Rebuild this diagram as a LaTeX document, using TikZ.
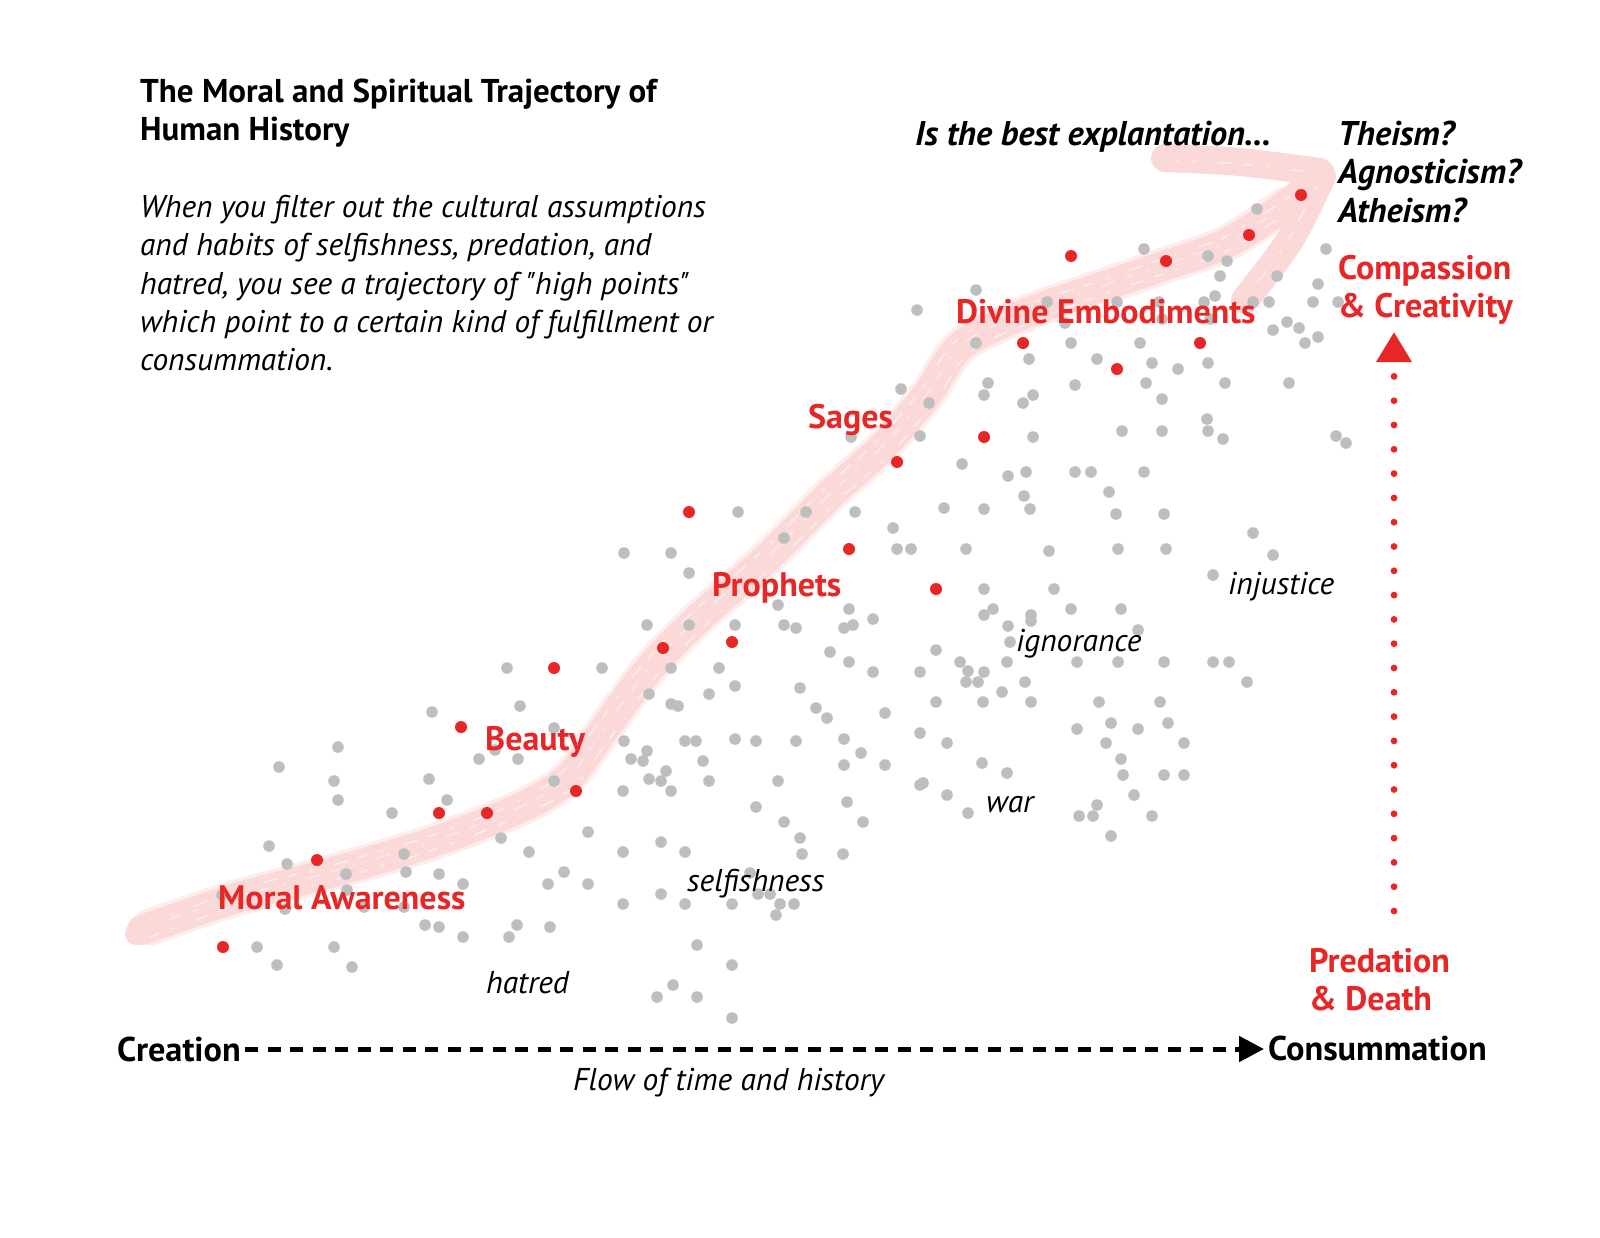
\documentclass[tikz,border=0pt]{standalone}
\usepackage{fontspec}
\setmainfont{PT Sans}
\newfontfamily\plainqfont{PT Sans}
\usetikzlibrary{arrows.meta}
\definecolor{hired}{RGB}{232,38,38}
\definecolor{dotgrey}{RGB}{190,190,190}
\definecolor{bandpink}{RGB}{252,217,217}
\begin{document}
\begin{tikzpicture}[x=1pt,y=-1pt,
  txt/.style={anchor=base west,inner sep=0pt},
  titlefont/.style={txt,font=\fontsize{33}{38}\selectfont\bfseries},
  parafont/.style={txt,font=\fontsize{31.4}{38}\selectfont\itshape},
  redlabel/.style={txt,text=hired,font=\fontsize{34}{38}\selectfont\bfseries},
  qlabel/.style={txt,font=\fontsize{34.3}{38}\selectfont\bfseries\itshape},
  evil/.style={txt,font=\fontsize{31.5}{38}\selectfont\itshape},
  axislabel/.style={txt,font=\fontsize{34.3}{38}\selectfont\bfseries},
  band/.style={draw=bandpink,line width=30pt,line cap=round,line join=round},
  bandsoft/.style={draw=bandpink,opacity=0.45,line width=37pt,line cap=round,line join=round},
  bandtex/.style={draw=white,opacity=0.6,line width=1.3pt,dash pattern=on 9pt off 14pt on 3pt off 22pt on 14pt off 11pt},
  axisarrow/.style={line width=5pt,dash pattern=on 13pt off 9.5pt,-{Triangle[length=25pt,width=25pt]}},
  reddotted/.style={draw=hired,line width=6.8pt,line cap=round,dash pattern=on 0pt off 24.3pt,-{Triangle[length=30pt,width=34pt]}}
]
\useasboundingbox (0,0) rectangle (1600,1237);
\fill[white] (0,0) rectangle (1600,1237);

% brush trajectory
\path[bandsoft] plot[smooth,tension=0.55] coordinates {(150,927) (233,899) (333,872) (433,842) (520,808) (567,779) (600,735) (650,668) (700,617) (767,558) (833,492) (883,447) (927,395) (962,345) (1027,313) (1093,290) (1160,267) (1227,243) (1285,205)};
\path[band] plot[smooth,tension=0.55] coordinates {(142,930) (233,899) (333,872) (433,842) (520,808) (567,779) (600,735) (650,668) (700,617) (767,558) (833,492) (883,447) (927,395) (962,345) (1027,313) (1093,290) (1160,267) (1227,243) (1290,202) (1320,174)};
\path[band,line width=28pt] plot[smooth,tension=0.5] coordinates {(1165,158) (1240,162) (1320,172)};
\path[band,line width=28pt] plot[smooth,tension=0.5] coordinates {(1322,176) (1290,240) (1245,300)};
\path[band,line width=22pt] (136,934) -- (175,918);
\path[bandtex] plot[smooth,tension=0.55] coordinates {(150,937) (233,907) (333,880) (433,850) (520,816) (572,788) (608,741) (658,674) (708,623) (775,564) (841,498) (891,453) (935,401) (970,352) (1031,322) (1093,298) (1160,275) (1227,251) (1285,214)};
\path[bandtex,dash phase=10pt] plot[smooth,tension=0.55] coordinates {(160,922) (233,891) (333,865) (433,835) (520,801) (562,772) (594,729) (644,663) (694,611) (761,552) (827,486) (877,441) (921,390) (957,340) (1024,306) (1093,283) (1160,260) (1227,236) (1290,196)};
\path[bandtex,dash phase=25pt,opacity=0.45] plot[smooth,tension=0.55] coordinates {(145,928) (233,898) (333,871) (433,841) (520,807) (567,779) (600,734) (650,667) (700,616) (767,557) (833,491) (883,446) (927,394) (962,344) (1027,312) (1093,289) (1160,266) (1227,242) (1290,202)};
\path[bandtex,dash phase=5pt] plot[smooth,tension=0.5] coordinates {(1175,160) (1240,164) (1310,172)};
\path[bandtex,dash phase=18pt] plot[smooth,tension=0.5] coordinates {(1318,182) (1288,240) (1250,292)};

% grey dots
\foreach \x/\y in {738/512,806/512,855/512,944/508,624/553,671/553,784/538,893/528,897/549,911/549,689/573,778/605,849/609,784/625,796/628,873/619,844/628,853/625,647/625,689/625,735/625,830/652,849/662,873/672,920/672,936/650,507/668,602/668,671/668,719/668,735/686,709/694,649/694,800/688,520/706,671/704,678/706,816/708,827/718,885/713,936/702,554/728,624/741,685/741,696/741,735/739,756/741,796/741,844/739,920/733,947/743,518/759,631/759,643/761,647/751,703/761,861/753,844/765,885/765,554/781,623/791,649/779,661/781,666/771,671/791,709/781,778/781,920/785,923/783,947/795,756/807,847/802,784/822,863/822,588/832,800/838,661/842,
432/712,479/759,495/750,338/747,279/767,334/781,338/800,429/779,447/800,392/813,501/838,269/846,287/864,346/874,404/854,406/872,439/874,463/884,222/895,285/909,347/890,364/907,404/907,425/925,439/927,463/937,509/937,517/925,257/947,334/947,277/965,352/967,
529/852,623/852,685/852,802/854,843/854,564/872,548/884,588/884,661/894,623/904,685/904,732/904,758/894,770/894,750/873,780/904,794/904,776/915,550/927,697/945,732/965,673/985,657/997,697/997,732/1018,
1033/437,1336/436,1346/443,962/464,1008/476,1026/472,1075/472,1091/472,1144/472,1109/492,1024/496,1030/509,984/509,1116/514,1164/514,1253/533,1273/555,966/549,1049/551,1118/549,1166/549,1213/575,984/589,1054/589,1071/609,1121/609,993/609,984/615,1031/615,1031/621,1008/626,1010/642,1138/630,960/662,1007/662,1077/662,1118/662,1164/662,1213/662,1229/662,968/671,984/672,966/682,978/682,1025/682,1247/682,1002/692,983/702,1031/702,1099/702,1160/702,1077/729,1111/723,1138/729,1168/723,1106/743,1184/743,1121/759,982/763,1007/773,1123/775,1164/775,1184/775,968/813,1134/795,1097/805,1093/816,1079/816,1152/816,1111/836,
1257/209,1144/249,1208/256,1227/261,1220/276,1277/276,1326/249,1318/284,1313/302,1338/302,976/290,917/310,1047/302,1117/302,1159/302,1204/302,1215/296,1253/302,1269/302,1065/323,1162/319,1210/319,1273/330,1287/322,1299/328,1305/343,1318/337,976/343,1071/343,1140/343,1029/359,1097/359,1152/363,1178/369,1208/363,901/389,929/403,988/383,984/395,1033/395,1023/403,1075/385,1146/383,1162/399,1225/383,1289/383,1207/419,1208/431,1223/439,920/436,1122/431,1162/431,851/437}
  \fill[dotgrey] (\x,\y) circle[radius=5.8pt];

% red dots
\foreach \x/\y in {223/947,317/860,439/813,487/813,461/727,554/668,576/791,663/648,732/642,689/512,849/549,936/589,897/462,984/437,1023/343,1117/369,1071/256,1166/261,1200/343,1249/235,1301/195}
  \fill[hired] (\x,\y) circle[radius=6pt];

% title and paragraph
\node[titlefont] (title1) at (140,102) {The Moral and Spiritual Trajectory of};
\node[titlefont] (title2) at (140,140) {Human History};
\node[parafont] (para1) at (140,217) {When you filter out the cultural assumptions};
\node[parafont] (para2) at (140,255) {and habits of selfishness, predation, and};
\node[parafont] (para3) at (140,294) {hatred, you see a trajectory of {\plainqfont"}high points{\plainqfont"}};
\node[parafont] (para4) at (140,332) {which point to a certain kind of fulfillment or};
\node[parafont] (para5) at (140,370) {consummation.};

% question
\node[qlabel] (quest) at (915,145) {Is the best explantation…};
\node[qlabel] (theism) at (1338,145) {Theism?};
\node[qlabel] (agnost) at (1338,183) {Agnosticism?};
\node[qlabel] (atheism) at (1338,222) {Atheism?};

% red labels
\node[redlabel] (comp1) at (1338,279) {Compassion};
\node[redlabel] (comp2) at (1338,317) {\& Creativity};
\node[redlabel] (divine) at (956,323) {Divine Embodiments};
\node[redlabel] (sages) at (808,428) {Sages};
\node[redlabel] (prophets) at (712,596) {Prophets};
\node[redlabel] (beauty) at (485,750) {Beauty};
\node[redlabel] (moral) at (218,909) {Moral Awareness};
\node[redlabel] (pred1) at (1309,972) {Predation};
\node[redlabel] (pred2) at (1309,1010) {\& Death};

% evils
\node[evil] (hatred) at (486,993) {hatred};
\node[evil] (selfish) at (687,891) {selfishness};
\node[evil] (war) at (986,812) {war};
\node[evil] (ignor) at (1016,651) {ignorance};
\node[evil] (injust) at (1228,594) {injustice};

% axis
\node[axislabel] (creation) at (117,1061) {Creation};
\node[axislabel] (consum) at (1268,1060) {Consummation};
\node[evil] (flow) at (573,1090) {Flow of time and history};
\coordinate (axisL) at (245,1049);
\coordinate (axisR) at (1264,1049);
\draw[axisarrow] (axisL) -- (axisR);

% red dotted arrow
\coordinate (dotL) at (1394,911);
\coordinate (dotU) at (1394,332);
\draw[reddotted] (dotL) -- (dotU);
\end{tikzpicture}
\end{document}
